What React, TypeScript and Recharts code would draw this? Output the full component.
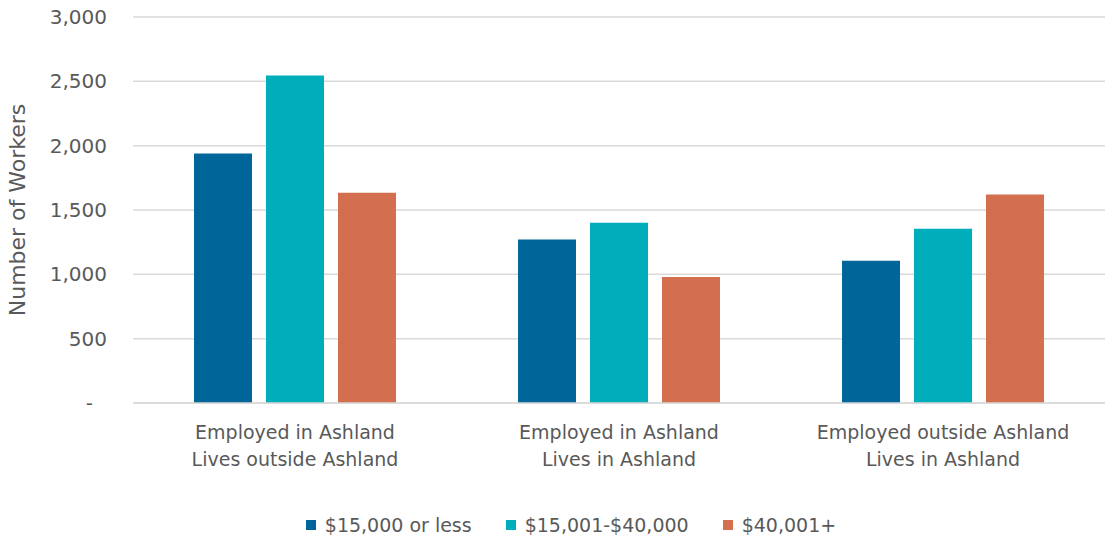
import { BarChart, Bar, XAxis, YAxis, CartesianGrid, Legend } from "recharts";

const categories = [
  "Employed in Ashland\nLives outside Ashland",
  "Employed in Ashland\nLives in Ashland",
  "Employed outside Ashland\nLives in Ashland",
];
const lowWage = [1940, 1270, 1105];
const midWage = [2545, 1400, 1355];
const highWage = [1635, 980, 1620];
const yTicks = [0, 500, 1000, 1500, 2000, 2500, 3000];

const series = [
  { key: "low", name: "$15,000 or less", color: "#006699" },
  { key: "mid", name: "$15,001-$40,000", color: "#00ADBB" },
  { key: "high", name: "$40,001+", color: "#D36F4E" },
];

const data = categories.map((c, i) => ({
  category: c,
  low: lowWage[i],
  mid: midWage[i],
  high: highWage[i],
}));

const FONT = "'DejaVu Sans', sans-serif";
const TEXT = "#595959";

function CategoryTick({ x, y, payload }: { x?: number; y?: number; payload?: { value: string } }) {
  const lines = String(payload?.value ?? "").split("\n");
  return (
    <text x={x} y={y} textAnchor="middle" fill={TEXT} fontSize={19} fontFamily={FONT}>
      {lines.map((l, i) => (
        <tspan key={i} x={x} dy={i === 0 ? 28 : 27}>{l}</tspan>
      ))}
    </text>
  );
}

function ValueTick({ x, y, payload }: { x?: number; y?: number; payload?: { value: number } }) {
  const v = payload?.value ?? 0;
  const label = v === 0 ? "-" : v.toLocaleString("en-US");
  return (
    <text x={(x ?? 0) - (v === 0 ? 14 : 0)} y={y} dy={7} textAnchor="end" fill={TEXT} fontSize={20} fontFamily={FONT}>
      {label}
    </text>
  );
}

function LegendContent() {
  return (
    <div style={{ display: "flex", justifyContent: "center", gap: 34, paddingTop: 19, paddingLeft: 34, fontFamily: FONT, fontSize: 19, color: TEXT }}>
      {series.map((s) => (
        <div key={s.key} style={{ display: "flex", alignItems: "center", gap: 9 }}>
          <div style={{ width: 10, height: 10, background: s.color }} />
          <span>{s.name}</span>
        </div>
      ))}
    </div>
  );
}

export default function App() {
  return (
    <div style={{ position: "absolute", left: 0, top: 0, width: 1108, height: 540, background: "#fff" }}>
      <BarChart
        width={1108}
        height={540}
        data={data}
        margin={{ top: 17, right: 3, bottom: 5, left: 3 }}
        barCategoryGap={61}
        barGap={14}
      >
        <CartesianGrid vertical={false} stroke="#D9D9D9" strokeWidth={1.5} />
        <XAxis
          dataKey="category"
          height={92}
          tick={<CategoryTick />}
          tickLine={false}
          axisLine={{ stroke: "#D9D9D9", strokeWidth: 1.5 }}
          interval={0}
        />
        <YAxis
          width={130}
          domain={[0, 3000]}
          ticks={yTicks}
          tick={<ValueTick />}
          tickLine={false}
          axisLine={false}
          tickMargin={20}
          label={{
            value: "Number of Workers",
            angle: -90,
            position: "insideLeft",
            offset: 14,
            style: { textAnchor: "middle", fill: TEXT, fontSize: 22, fontFamily: FONT },
          }}
        />
        <Legend verticalAlign="bottom" height={40} content={<LegendContent />} />
        {series.map((s) => (
          <Bar key={s.key} dataKey={s.key} name={s.name} fill={s.color} isAnimationActive={false} />
        ))}
      </BarChart>
    </div>
  );
}
